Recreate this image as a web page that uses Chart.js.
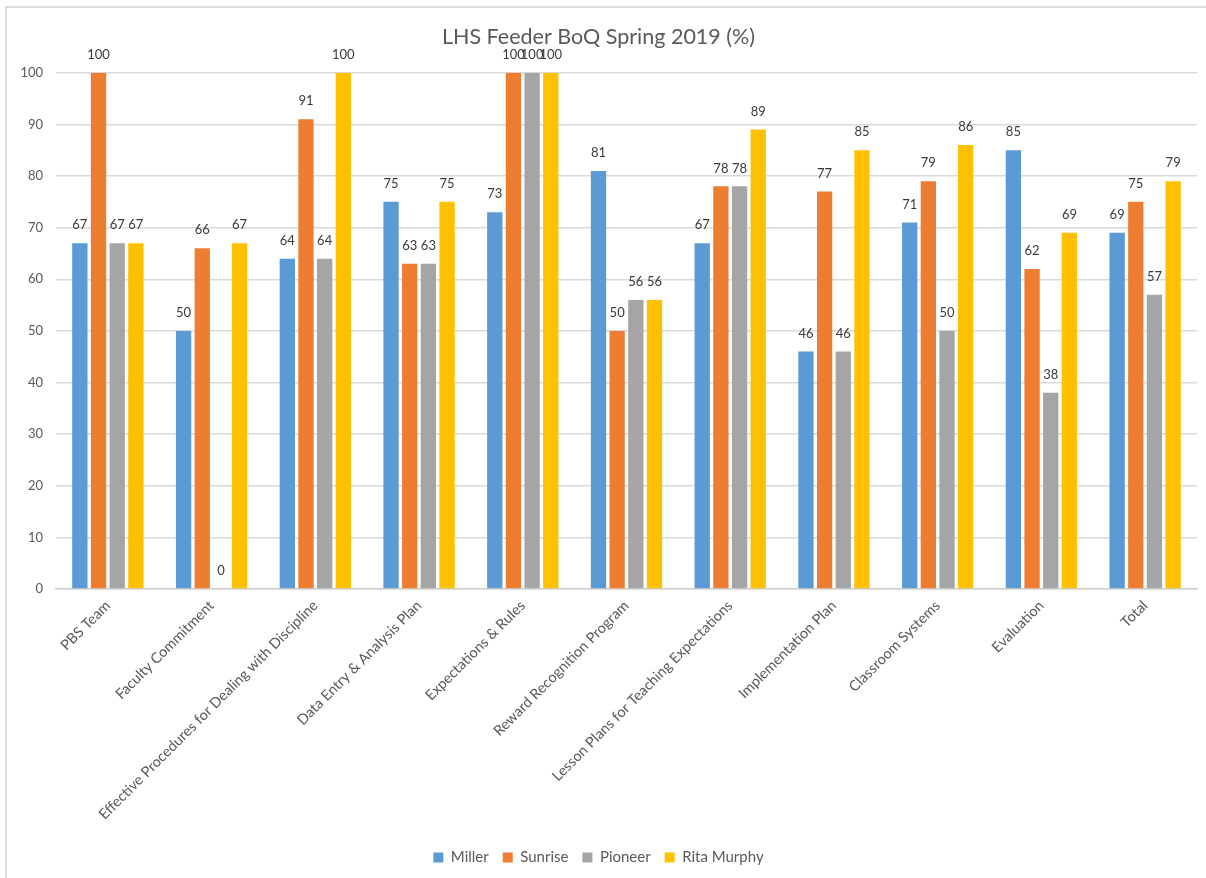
<!DOCTYPE html>
<html>
<head>
<meta charset="utf-8">
<title>LHS Feeder BoQ Spring 2019 (%)</title>
<script src="https://cdn.jsdelivr.net/npm/chart.js@4/dist/chart.umd.min.js"></script>
<style>
  html, body { margin: 0; padding: 0; background: #fff; }
  canvas { display: block; }
</style>
</head>
<body>
<canvas id="boqChart" width="1206" height="878"></canvas>
<script>
// categories and per-school scores (%)
const categories = [
  'PBS Team',
  'Faculty Commitment',
  'Effective Procedures for Dealing with Discipline',
  'Data Entry & Analysis Plan',
  'Expectations & Rules',
  'Reward Recognition Program',
  'Lesson Plans for Teaching Expectations',
  'Implementation Plan',
  'Classroom Systems',
  'Evaluation',
  'Total'
];
const miller     = [67, 50, 64, 75, 73, 81, 67, 46, 71, 85, 69];
const sunrise    = [100, 66, 91, 63, 100, 50, 78, 77, 79, 62, 75];
const pioneer    = [67, 0, 64, 63, 100, 56, 78, 46, 50, 38, 57];
const ritaMurphy = [67, 67, 100, 75, 100, 56, 89, 85, 86, 69, 79];
const yTicks = [0, 10, 20, 30, 40, 50, 60, 70, 80, 90, 100];

const FONT = "Lato, 'Open Sans', sans-serif";
const TEXT = '#595959';

// white background plus the thin frame on the top and left edges
const framePlugin = {
  id: 'frame',
  beforeDraw(chart) {
    const ctx = chart.ctx;
    ctx.save();
    ctx.fillStyle = '#ffffff';
    ctx.fillRect(0, 0, chart.width, chart.height);
    ctx.strokeStyle = '#dcdcdc';
    ctx.lineWidth = 2;
    ctx.beginPath();
    ctx.moveTo(6, chart.height);
    ctx.lineTo(6, 7);
    ctx.lineTo(chart.width, 7);
    ctx.stroke();
    ctx.restore();
  }
};

// value above each bar
const valueLabels = {
  id: 'valueLabels',
  afterDatasetsDraw(chart) {
    const ctx = chart.ctx;
    ctx.save();
    ctx.font = '13px ' + FONT;
    ctx.fillStyle = '#3a3a3a';
    ctx.textAlign = 'center';
    ctx.textBaseline = 'middle';
    chart.data.datasets.forEach((ds, i) => {
      chart.getDatasetMeta(i).data.forEach((bar, j) => {
        ctx.fillText(String(ds.data[j]), bar.x, bar.y - 18);
      });
    });
    ctx.restore();
  }
};

new Chart(document.getElementById('boqChart').getContext('2d'), {
  type: 'bar',
  data: {
    labels: categories,
    datasets: [
      { label: 'Miller', data: miller, backgroundColor: '#5B9BD5' },
      { label: 'Sunrise', data: sunrise, backgroundColor: '#ED7D31' },
      { label: 'Pioneer', data: pioneer, backgroundColor: '#A5A5A5' },
      { label: 'Rita Murphy', data: ritaMurphy, backgroundColor: '#FFC000' }
    ]
  },
  options: {
    responsive: false,
    devicePixelRatio: 1,
    animation: false,
    datasets: {
      bar: { categoryPercentage: 0.72, barPercentage: 0.82 }
    },
    layout: { padding: { left: 0, right: 9, top: 0, bottom: 3 } },
    plugins: {
      title: {
        display: true,
        text: 'LHS Feeder BoQ Spring 2019 (%)',
        color: TEXT,
        font: { family: FONT, size: 21.5, weight: 'normal' },
        padding: { top: 24, bottom: 23 }
      },
      legend: {
        display: true,
        position: 'bottom',
        labels: {
          color: TEXT,
          font: { family: FONT, size: 15 },
          boxWidth: 10,
          boxHeight: 10,
          padding: 14
        }
      },
      tooltip: { enabled: false }
    },
    scales: {
      x: {
        grid: { display: false, drawTicks: false },
        border: { color: '#d0d0d0', width: 1.5 },
        ticks: {
          color: TEXT,
          font: { family: FONT, size: 14.5 },
          autoSkip: false,
          minRotation: 45,
          maxRotation: 45,
          padding: 8
        },
        afterFit(scale) { scale.height = 247; }
      },
      y: {
        min: 0,
        max: 100,
        afterBuildTicks(scale) { scale.ticks = yTicks.map(v => ({ value: v })); },
        grid: { color: '#d9d9d9', lineWidth: 1.5, drawTicks: false },
        border: { display: false },
        ticks: {
          color: TEXT,
          font: { family: FONT, size: 13 },
          padding: 13
        },
        afterFit(scale) { scale.width = 56; }
      }
    }
  },
  plugins: [framePlugin, valueLabels]
});
</script>
</body>
</html>
